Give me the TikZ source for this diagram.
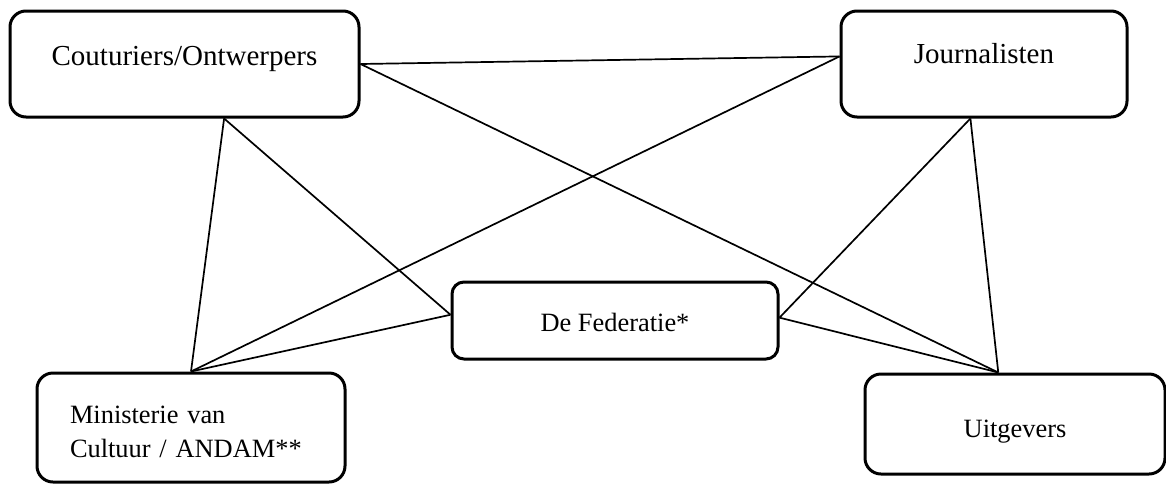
\documentclass[tikz,border=0pt]{standalone}
\usepackage{fontspec}
\setmainfont{Liberation Serif}
\usepackage{tikz}

\begin{document}
\begin{tikzpicture}[x=0.5pt,y=-0.5pt,
        actor/.style={draw,line width=1.5pt,rounded corners=8pt,inner sep=0pt},
        bigtext/.style={font=\fontsize{14.5pt}{17pt}\selectfont},
        smalltext/.style={font=\fontsize{13.2pt}{17pt}\selectfont},
        link/.style={line width=0.85pt}]
        \useasboundingbox (0,0) rectangle (1166,483);
        % the five parties
        \node[actor,bigtext,minimum width=174.5pt,text height=27pt,text depth=26pt] (cout) at (184.5,64) {Couturiers/Ontwerpers};
        \node[actor,bigtext,minimum width=143pt,text height=26pt,text depth=27pt] (jour) at (984,64) {Journalisten};
        \node[actor,smalltext,rounded corners=6pt,minimum width=163pt,text height=24.5pt,text depth=14pt] (fed) at (615,320.5) {De Federatie*};
        \node[actor,smalltext,align=left,text width=121pt,inner xsep=16.5pt,text height=25pt,text depth=29.5pt] (min) at (191,427.5) {Ministerie van\\Cultuur / ANDAM**};
        \node[actor,smalltext,minimum width=150pt,text height=31.5pt,text depth=18.5pt] (uit) at (1015,424) {Uitgevers};
        % links between them
        \draw[link] (cout.0.7) -- (jour.177.6);
        \draw[link] (cout.0.7) -- (uit.108.8);
        \draw[link] (cout.-54) -- (min.north);
        \draw[link] (cout.-54) -- (fed.178.1);
        \draw[link] (jour.177.6) -- (min.north);
        \draw[link] (jour.-104.8) -- (fed.1.9);
        \draw[link] (jour.-104.8) -- (uit.108.8);
        \draw[link] (fed.178.1) -- (min.north);
        \draw[link] (fed.1.9) -- (uit.108.8);
      \end{tikzpicture}
\end{document}
